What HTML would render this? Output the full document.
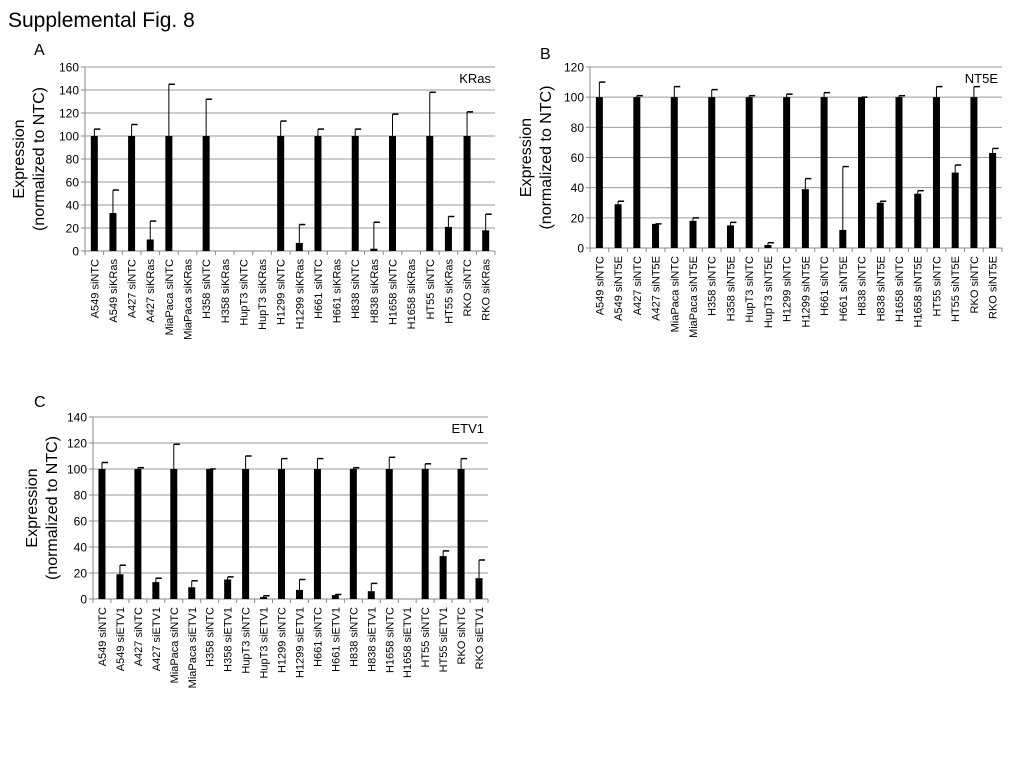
<!DOCTYPE html>
<html><head><meta charset="utf-8"><style>
body{margin:0;background:#fff;width:1024px;height:768px;overflow:hidden;font-family:"Liberation Sans",sans-serif}
svg text{font-family:"Liberation Sans",sans-serif}
</style></head><body>
<svg id="fig" width="1024" height="768" xmlns="http://www.w3.org/2000/svg">
<text x="8" y="27" font-size="21">Supplemental Fig. 8</text>
</svg>
<script>
const lines = ["A549","A427","MiaPaca","H358","HupT3","H1299","H661","H838","H1658","HT55","RKO"];
const kValues = [100,33,100,10,100,0,100,0,0,0,100,7,100,0,100,2,100,0,100,21,100,18];
const kErrors = [106,53,110,26,145,0,132,0,0,0,113,23,106,0,106,25,119,0,138,30,121,32];
const nValues = [100,29,100,16,100,18,100,15,100,2,100,39,100,12,100,30,100,36,100,50,100,63];
const nErrors = [110,31,101,16,107,20,105,17,101,3.5,102,46,103,54,100,31,101,38,107,55,107,66];
const eValues = [100,19,100,13,100,9,100,15,100,1.5,100,7,100,3,100,6,100,0,100,33,100,16];
const eErrors = [105,26,101,16,119,14,100,17,110,2.5,108,15,108,3.5,101,12,109,0,104,37,108,30];
const kTicks = [0,20,40,60,80,100,120,140,160];
const nTicks = [0,20,40,60,80,100,120];
const eTicks = [0,20,40,60,80,100,120,140];
const NS="http://www.w3.org/2000/svg";
const svg=document.getElementById('fig');
function mk(tag,attrs,parent){const e=document.createElementNS(NS,tag);for(const k in attrs)e.setAttribute(k,attrs[k]);(parent||svg).appendChild(e);return e;}
function panel(id,letter,lx,ly,x0,x1,y0,y1,ymax,ticks,vals,errs,suffix,gene,tx1,tx2){
  const g=mk('g',{});
  
  
  const cats=[];lines.forEach(l=>{cats.push(l+' siNTC');cats.push(l+' si'+suffix);});
  const ys=v=>y0-(v/ymax)*(y0-y1);
  const bw=(x1-x0)/cats.length;
  const xs=i=>x0+bw*(i+0.5);
  const L=mk('text',{x:lx,y:ly,'font-size':16},g);L.textContent=letter;
  
  
  ticks.forEach(t=>{
    if(t>0){const gl=mk('line',{x1:x0,x2:x1,y1:ys(t),y2:ys(t),stroke:'#999','stroke-width':1},g);
    
    }
    const tl=mk('text',{x:x0-6,y:ys(t)+4.5,'font-size':12,'text-anchor':'end'},g);tl.textContent=t;
    
    
    mk('line',{x1:x0-4,x2:x0,y1:ys(t),y2:ys(t),stroke:'#888'},g);
  });
  mk('line',{x1:x0,x2:x0,y1:y0,y2:y1,stroke:'#888'},g);
  mk('line',{x1:x0,x2:x1,y1:y0,y2:y0,stroke:'#888'},g);
  for(let i=0;i<=cats.length;i++)mk('line',{x1:x0+bw*i,x2:x0+bw*i,y1:y0,y2:y0+4,stroke:'#888'},g);
  cats.forEach((c,i)=>{
    const x=xs(i);
    if(vals[i]>0){const b=mk('rect',{x:x-3.5,y:ys(vals[i]),width:7,height:y0-ys(vals[i]),fill:'#000'},g);
    
    }
    if(errs[i]>vals[i]){
      const e=mk('line',{x1:x,x2:x,y1:ys(vals[i]),y2:ys(errs[i]),stroke:'#000','stroke-width':1},g);
      
      
      mk('line',{x1:x,x2:x+6,y1:ys(errs[i]),y2:ys(errs[i]),stroke:'#000','stroke-width':1.5},g);
    } else if(vals[i]>0){mk('line',{x1:x,x2:x+6,y1:ys(vals[i]),y2:ys(vals[i]),stroke:'#000','stroke-width':1.5},g);}
    const t=mk('text',{transform:`translate(${x+4},${y0+8}) rotate(-90)`,'font-size':11,'text-anchor':'end'},g);
    t.textContent=c;
    
    
  });
  const gn=mk('text',{x:x1-4,y:y1+16,'font-size':13,'text-anchor':'end'},g);gn.textContent=gene;
  
  
  const cy=(y0+y1)/2;
  const a=mk('text',{transform:`translate(${tx1},${cy}) rotate(-90)`,'font-size':16,'text-anchor':'middle'},g);a.textContent='Expression';
  
  
  const b=mk('text',{transform:`translate(${tx2},${cy}) rotate(-90)`,'font-size':16,'text-anchor':'middle'},g);b.textContent='(normalized to NTC)';
  
  
}
panel('a','A',34,55,85,495,251,67,160,kTicks,kValues,kErrors,'KRas','KRas',24,44);
panel('b','B',540,59,590,1002,248,67,120,nTicks,nValues,nErrors,'NT5E','NT5E',531,551);
panel('c','C',34,407,93,488,599,417,140,eTicks,eValues,eErrors,'ETV1','ETV1',37,57);
</script>
</body></html>
